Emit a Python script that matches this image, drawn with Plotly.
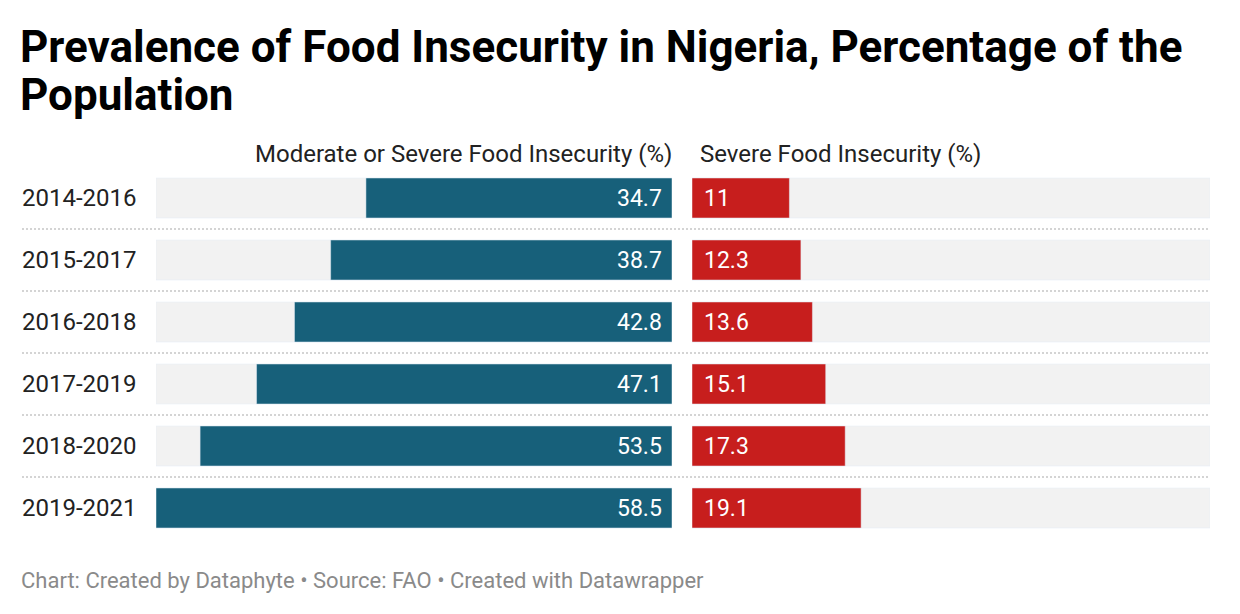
import plotly.graph_objects as go

W, H = 1240, 614

periods = ["2014-2016", "2015-2017", "2016-2018", "2017-2019", "2018-2020", "2019-2021"]
moderate_or_severe = [34.7, 38.7, 42.8, 47.1, 53.5, 58.5]
severe = [11, 12.3, 13.6, 15.1, 17.3, 19.1]

title_line1 = "Prevalence of Food Insecurity in Nigeria, Percentage of the"
title_line2 = "Population"
col1_header = "Moderate or Severe Food Insecurity (%)"
col2_header = "Severe Food Insecurity (%)"
footer = "Chart: Created by Dataphyte • Source: FAO • Created with Datawrapper"

BLUE = "#17607a"
RED = "#c71e1d"
BG = "#f2f2f2"
FONT = "Roboto"

xmax = max(moderate_or_severe)
bg_vals = [xmax] * len(periods)

def px(x):
    return x / W

def py(y):
    return 1 - y / H

fig = go.Figure()
# left panel
fig.add_trace(go.Bar(y=periods, x=bg_vals, orientation="h", marker_color=BG,
                     width=0.645, xaxis="x", yaxis="y", hoverinfo="skip", showlegend=False))
fig.add_trace(go.Bar(y=periods, x=moderate_or_severe, orientation="h", marker_color=BLUE,
                     width=0.645, xaxis="x", yaxis="y", showlegend=False))
# right panel
fig.add_trace(go.Bar(y=periods, x=bg_vals, orientation="h", marker_color=BG,
                     width=0.645, xaxis="x2", yaxis="y", hoverinfo="skip", showlegend=False))
fig.add_trace(go.Bar(y=periods, x=severe, orientation="h", marker_color=RED,
                     width=0.645, xaxis="x2", yaxis="y", showlegend=False))

annotations = []
for p, v in zip(periods, moderate_or_severe):
    annotations.append(dict(x=0, y=p, xref="x", yref="y", text=f"{v:g}", showarrow=False,
                            xanchor="right", xshift=-8, font=dict(family=FONT, size=23, color="white")))
for p, v in zip(periods, severe):
    annotations.append(dict(x=0, y=p, xref="x2", yref="y", text=f"{v:g}", showarrow=False,
                            xanchor="left", xshift=10, font=dict(family=FONT, size=23, color="white")))
for p in periods:
    annotations.append(dict(x=px(20), y=p, xref="paper", yref="y", text=p, showarrow=False,
                            xanchor="left", font=dict(family=FONT, size=24, color="#222222")))

annotations += [
    dict(x=px(674), y=py(154), xref="paper", yref="paper", text=col1_header, showarrow=False,
         xanchor="right", yanchor="middle", font=dict(family=FONT, size=24, color="#222222")),
    dict(x=px(698), y=py(154), xref="paper", yref="paper", text=col2_header, showarrow=False,
         xanchor="left", yanchor="middle", font=dict(family=FONT, size=24, color="#222222")),
    dict(x=px(18), y=py(47), xref="paper", yref="paper", text="<b>" + title_line1 + "</b>", showarrow=False,
         xanchor="left", yanchor="middle", font=dict(family=FONT, size=44, color="#000000")),
    dict(x=px(18), y=py(95), xref="paper", yref="paper", text="<b>" + title_line2 + "</b>", showarrow=False,
         xanchor="left", yanchor="middle", font=dict(family=FONT, size=44, color="#000000")),
    dict(x=px(19), y=py(580), xref="paper", yref="paper", text=footer, showarrow=False,
         xanchor="left", yanchor="middle", font=dict(family=FONT, size=22, color="#8a8a8a")),
]

shapes = []
for i in range(len(periods) - 1):
    shapes.append(dict(type="line", xref="paper", yref="y", x0=px(22), x1=px(1210),
                       y0=i + 0.5, y1=i + 0.5, line=dict(color="#d4d4d4", width=2, dash="2px,2px")))

fig.update_layout(
    width=W, height=H,
    margin=dict(l=0, r=0, t=0, b=0),
    paper_bgcolor="white", plot_bgcolor="white",
    barmode="overlay",
    xaxis=dict(domain=[px(156), px(672)], range=[xmax, 0], visible=False, fixedrange=True),
    xaxis2=dict(domain=[px(692), px(1210)], range=[0, xmax], visible=False, fixedrange=True),
    yaxis=dict(domain=[py(539), py(167)], range=[5.5, -0.5], visible=False,
               categoryorder="array", categoryarray=periods, fixedrange=True),
    annotations=annotations,
    shapes=shapes,
    font=dict(family=FONT),
)

fig.write_html("out.html")
